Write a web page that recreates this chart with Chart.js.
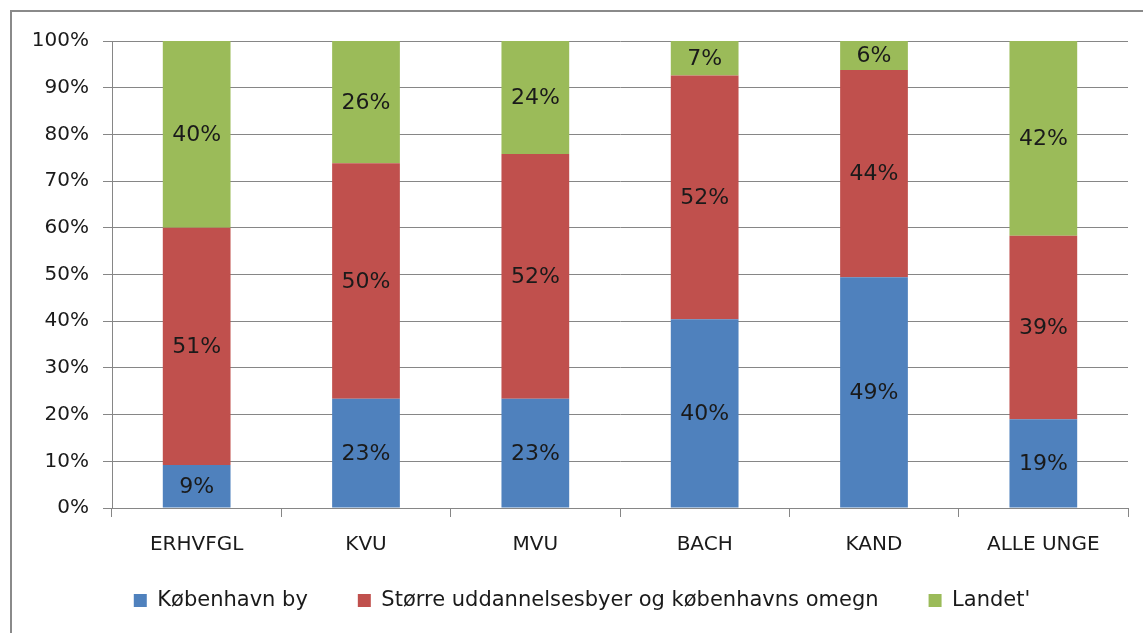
<!DOCTYPE html>
<html><head><meta charset="utf-8">
<script src="https://cdn.jsdelivr.net/npm/chart.js@4.4.1/dist/chart.umd.min.js"></script>
<style>
html,body{margin:0;padding:0;background:#fff;overflow:hidden}
#wrap{position:absolute;left:0;top:0;width:1143px;height:633px}
#frame{position:absolute;left:10px;top:10px;width:1150px;height:650px;border:2px solid #8a8a8a;box-sizing:border-box;pointer-events:none}
</style></head>
<body><div id="wrap"><canvas id="c" width="1143" height="633"></canvas><div id="frame"></div></div>
<script>
const categories = ['ERHVFGL','KVU','MVU','BACH','KAND','ALLE UNGE'];
const seriesNames = ['København by','Større uddannelsesbyer og københavns omegn',"Landet'"];
const kobenhavn = [9.2, 23.4, 23.4, 40.4, 49.4, 19.0];
const storre    = [50.8, 50.4, 52.4, 52.2, 44.4, 39.3];
const landet    = [40.0, 26.2, 24.2, 7.4, 6.2, 41.7];
const yTicks = ['0%','10%','20%','30%','40%','50%','60%','70%','80%','90%','100%'];
const colors = ['#4F81BD','#C0504D','#9BBB59'];
const FONT = '"DejaVu Sans", sans-serif';

const labelPlugin = {
  id:'barLabels',
  afterLayout(chart){
    const lg = chart.legend;
    if (!lg) return;
    const pad = lg.options.labels.padding;
    const newTop = 590 - pad;
    lg.top = newTop;
    lg.height = lg.bottom - newTop;
    lg.left += 12;
    lg.right += 12;
  },
  afterDatasetsDraw(chart){
    const ctx = chart.ctx;
    ctx.save();
    ctx.font = '22px ' + FONT;
    ctx.fillStyle = '#1a1a1a';
    ctx.textAlign = 'center';
    ctx.textBaseline = 'middle';
    chart.data.datasets.forEach((ds, di) => {
      const meta = chart.getDatasetMeta(di);
      meta.data.forEach((bar, i) => {
        const v = ds.data[i];
        const mid = (bar.y + bar.base) / 2;
        ctx.fillText(Math.round(v) + '%', bar.x, mid + 1);
      });
    });
    ctx.restore();
  }
};

new Chart(document.getElementById('c'), {
  type:'bar',
  data:{
    labels: categories,
    datasets:[
      {label: seriesNames[0], data: kobenhavn, backgroundColor: colors[0]},
      {label: seriesNames[1], data: storre, backgroundColor: colors[1]},
      {label: seriesNames[2], data: landet, backgroundColor: colors[2]}
    ]
  },
  options:{
    responsive:false,
    animation:false,
    devicePixelRatio:1,
    layout:{padding:{left:12,right:15,top:41,bottom:0}},
    datasets:{bar:{categoryPercentage:1.0, barPercentage:0.4}},
    plugins:{
      legend:{
        position:'bottom',
        maxHeight:76,
        labels:{boxWidth:13, boxHeight:13, padding:50, color:'#1a1a1a', font:{family:FONT, size:21}}
      },
      tooltip:{enabled:false}
    },
    scales:{
      x:{
        stacked:true,
        offset:true,
        afterFit(s){ s.height = 49; },
        grid:{display:true, drawOnChartArea:false, offset:true, color:'#868686', tickLength:9, tickWidth:1},
        border:{display:true, color:'#868686', width:1},
        ticks:{color:'#1a1a1a', font:{family:FONT, size:20}, padding:16, maxRotation:0}
      },
      y:{
        stacked:true,
        min:0, max:100,
        afterFit(s){ s.width = 100; },
        grid:{color:'#868686', tickLength:9, lineWidth:1},
        border:{display:true, color:'#868686', width:1},
        ticks:{stepSize:10, color:'#1a1a1a', font:{family:FONT, size:20}, padding:14,
          callback:(v)=> yTicks[Math.round(v/10)]}
      }
    }
  },
  plugins:[labelPlugin]
});
</script>
</body></html>
